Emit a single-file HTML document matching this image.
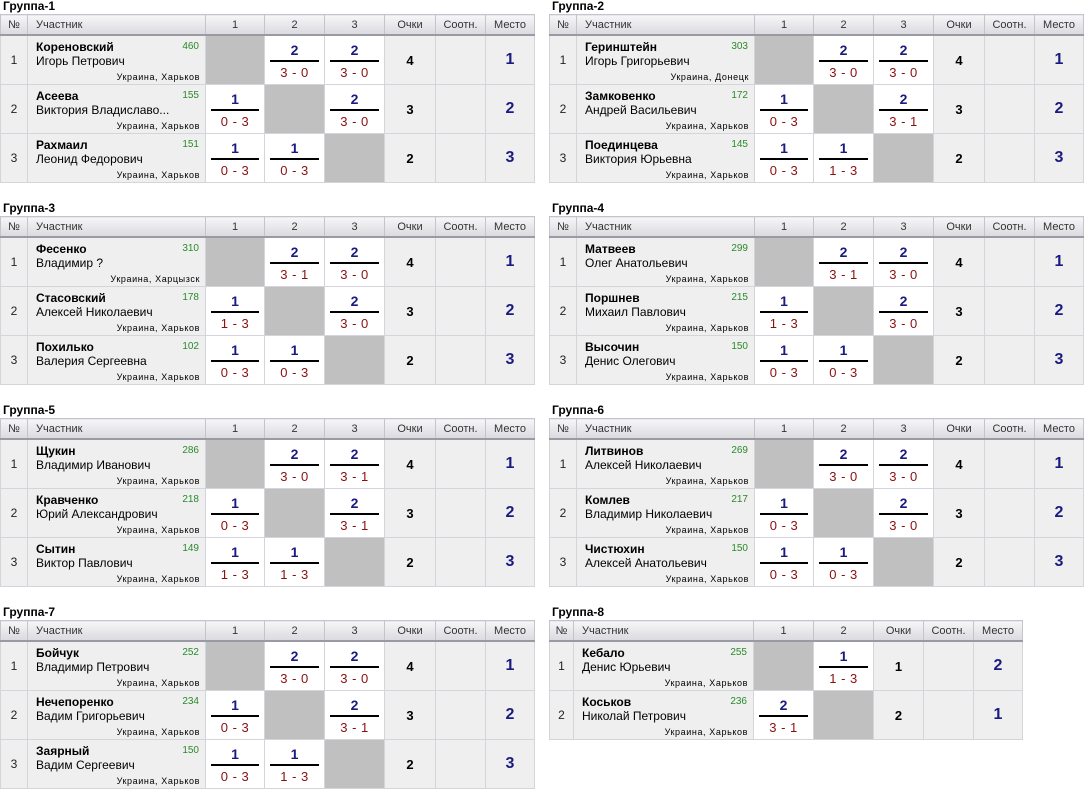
<!DOCTYPE html>
<html><head><meta charset="utf-8">
<style>
body{margin:0;width:1089px;height:794px;background:#fff;font-family:"Liberation Sans",Arial,sans-serif;position:relative;overflow:hidden}
.g{position:absolute}
.t{font-weight:bold;font-size:12px;color:#000;height:14px;line-height:12px;margin-left:3px}
table{border-collapse:collapse;table-layout:fixed}
th{height:19px;padding:0;font-weight:normal;font-size:11px;color:#333;background:linear-gradient(#f6f6f8,#dadadf);border:1px solid #c4c4cc;border-bottom:2px solid #9a9aa4;text-align:center}
th.p{text-align:left;padding-left:8px}
td{height:48px;padding:0;border:1px solid #d4d4dc;background:#efefef;text-align:center;font-size:12px;vertical-align:middle}
td.n{color:#222}
td.x{background:#c0c0c0}
td.s{background:#fff}
.pc{position:relative;height:48px;text-align:left}
.pc b{position:absolute;left:8px;top:4px;font-size:12px}
.pc .nm{position:absolute;left:8px;top:18px;font-size:12px;white-space:nowrap}
.pc .r{position:absolute;right:6px;top:5px;font-size:10px;color:#2a8a2a}
.pc .c{position:absolute;right:5px;bottom:2px;font-size:9px;letter-spacing:.6px}
.sc{position:relative;height:48px}
.sc .a{position:absolute;left:0;right:0;top:6px;font-weight:bold;font-size:14px;color:#1a1a80}
.sc .l{position:absolute;left:5px;right:5px;top:24px;height:2px;background:#000}
.sc .b{position:absolute;left:0;right:0;top:29px;font-size:13px;color:#8a1010;letter-spacing:.5px}
td.o{font-weight:bold;font-size:13px}
td.m{font-weight:bold;font-size:16px;color:#1a1a80}
</style></head><body>

<div class="g" style="left:0;top:0">
<div class="t">Группа-1</div>
<table><colgroup><col style="width:27px"><col style="width:178px"><col style="width:59px"><col style="width:60px"><col style="width:60px"><col style="width:51px"><col style="width:50px"><col style="width:49px"></colgroup>
<tr><th>№</th><th class="p">Участник</th><th>1</th><th>2</th><th>3</th><th>Очки</th><th>Соотн.</th><th>Место</th></tr>
<tr><td class="n">1</td><td><div class="pc"><b>Кореновский</b><span class="nm">Игорь Петрович</span><span class="r">460</span><span class="c">Украина, Харьков</span></div></td><td class="x"></td><td class="s"><div class="sc"><span class="a">2</span><span class="l"></span><span class="b">3 - 0</span></div></td><td class="s"><div class="sc"><span class="a">2</span><span class="l"></span><span class="b">3 - 0</span></div></td><td class="o">4</td><td></td><td class="m">1</td></tr>
<tr><td class="n">2</td><td><div class="pc"><b>Асеева</b><span class="nm">Виктория Владиславо...</span><span class="r">155</span><span class="c">Украина, Харьков</span></div></td><td class="s"><div class="sc"><span class="a">1</span><span class="l"></span><span class="b">0 - 3</span></div></td><td class="x"></td><td class="s"><div class="sc"><span class="a">2</span><span class="l"></span><span class="b">3 - 0</span></div></td><td class="o">3</td><td></td><td class="m">2</td></tr>
<tr><td class="n">3</td><td><div class="pc"><b>Рахмаил</b><span class="nm">Леонид Федорович</span><span class="r">151</span><span class="c">Украина, Харьков</span></div></td><td class="s"><div class="sc"><span class="a">1</span><span class="l"></span><span class="b">0 - 3</span></div></td><td class="s"><div class="sc"><span class="a">1</span><span class="l"></span><span class="b">0 - 3</span></div></td><td class="x"></td><td class="o">2</td><td></td><td class="m">3</td></tr>
</table></div>

<div class="g" style="left:549px;top:0">
<div class="t">Группа-2</div>
<table><colgroup><col style="width:27px"><col style="width:178px"><col style="width:59px"><col style="width:60px"><col style="width:60px"><col style="width:51px"><col style="width:50px"><col style="width:49px"></colgroup>
<tr><th>№</th><th class="p">Участник</th><th>1</th><th>2</th><th>3</th><th>Очки</th><th>Соотн.</th><th>Место</th></tr>
<tr><td class="n">1</td><td><div class="pc"><b>Геринштейн</b><span class="nm">Игорь Григорьевич</span><span class="r">303</span><span class="c">Украина, Донецк</span></div></td><td class="x"></td><td class="s"><div class="sc"><span class="a">2</span><span class="l"></span><span class="b">3 - 0</span></div></td><td class="s"><div class="sc"><span class="a">2</span><span class="l"></span><span class="b">3 - 0</span></div></td><td class="o">4</td><td></td><td class="m">1</td></tr>
<tr><td class="n">2</td><td><div class="pc"><b>Замковенко</b><span class="nm">Андрей Васильевич</span><span class="r">172</span><span class="c">Украина, Харьков</span></div></td><td class="s"><div class="sc"><span class="a">1</span><span class="l"></span><span class="b">0 - 3</span></div></td><td class="x"></td><td class="s"><div class="sc"><span class="a">2</span><span class="l"></span><span class="b">3 - 1</span></div></td><td class="o">3</td><td></td><td class="m">2</td></tr>
<tr><td class="n">3</td><td><div class="pc"><b>Поединцева</b><span class="nm">Виктория Юрьевна</span><span class="r">145</span><span class="c">Украина, Харьков</span></div></td><td class="s"><div class="sc"><span class="a">1</span><span class="l"></span><span class="b">0 - 3</span></div></td><td class="s"><div class="sc"><span class="a">1</span><span class="l"></span><span class="b">1 - 3</span></div></td><td class="x"></td><td class="o">2</td><td></td><td class="m">3</td></tr>
</table></div>

<div class="g" style="left:0;top:202px">
<div class="t">Группа-3</div>
<table><colgroup><col style="width:27px"><col style="width:178px"><col style="width:59px"><col style="width:60px"><col style="width:60px"><col style="width:51px"><col style="width:50px"><col style="width:49px"></colgroup>
<tr><th>№</th><th class="p">Участник</th><th>1</th><th>2</th><th>3</th><th>Очки</th><th>Соотн.</th><th>Место</th></tr>
<tr><td class="n">1</td><td><div class="pc"><b>Фесенко</b><span class="nm">Владимир ?</span><span class="r">310</span><span class="c">Украина, Харцызск</span></div></td><td class="x"></td><td class="s"><div class="sc"><span class="a">2</span><span class="l"></span><span class="b">3 - 1</span></div></td><td class="s"><div class="sc"><span class="a">2</span><span class="l"></span><span class="b">3 - 0</span></div></td><td class="o">4</td><td></td><td class="m">1</td></tr>
<tr><td class="n">2</td><td><div class="pc"><b>Стасовский</b><span class="nm">Алексей Николаевич</span><span class="r">178</span><span class="c">Украина, Харьков</span></div></td><td class="s"><div class="sc"><span class="a">1</span><span class="l"></span><span class="b">1 - 3</span></div></td><td class="x"></td><td class="s"><div class="sc"><span class="a">2</span><span class="l"></span><span class="b">3 - 0</span></div></td><td class="o">3</td><td></td><td class="m">2</td></tr>
<tr><td class="n">3</td><td><div class="pc"><b>Похилько</b><span class="nm">Валерия Сергеевна</span><span class="r">102</span><span class="c">Украина, Харьков</span></div></td><td class="s"><div class="sc"><span class="a">1</span><span class="l"></span><span class="b">0 - 3</span></div></td><td class="s"><div class="sc"><span class="a">1</span><span class="l"></span><span class="b">0 - 3</span></div></td><td class="x"></td><td class="o">2</td><td></td><td class="m">3</td></tr>
</table></div>

<div class="g" style="left:549px;top:202px">
<div class="t">Группа-4</div>
<table><colgroup><col style="width:27px"><col style="width:178px"><col style="width:59px"><col style="width:60px"><col style="width:60px"><col style="width:51px"><col style="width:50px"><col style="width:49px"></colgroup>
<tr><th>№</th><th class="p">Участник</th><th>1</th><th>2</th><th>3</th><th>Очки</th><th>Соотн.</th><th>Место</th></tr>
<tr><td class="n">1</td><td><div class="pc"><b>Матвеев</b><span class="nm">Олег Анатольевич</span><span class="r">299</span><span class="c">Украина, Харьков</span></div></td><td class="x"></td><td class="s"><div class="sc"><span class="a">2</span><span class="l"></span><span class="b">3 - 1</span></div></td><td class="s"><div class="sc"><span class="a">2</span><span class="l"></span><span class="b">3 - 0</span></div></td><td class="o">4</td><td></td><td class="m">1</td></tr>
<tr><td class="n">2</td><td><div class="pc"><b>Поршнев</b><span class="nm">Михаил Павлович</span><span class="r">215</span><span class="c">Украина, Харьков</span></div></td><td class="s"><div class="sc"><span class="a">1</span><span class="l"></span><span class="b">1 - 3</span></div></td><td class="x"></td><td class="s"><div class="sc"><span class="a">2</span><span class="l"></span><span class="b">3 - 0</span></div></td><td class="o">3</td><td></td><td class="m">2</td></tr>
<tr><td class="n">3</td><td><div class="pc"><b>Высочин</b><span class="nm">Денис Олегович</span><span class="r">150</span><span class="c">Украина, Харьков</span></div></td><td class="s"><div class="sc"><span class="a">1</span><span class="l"></span><span class="b">0 - 3</span></div></td><td class="s"><div class="sc"><span class="a">1</span><span class="l"></span><span class="b">0 - 3</span></div></td><td class="x"></td><td class="o">2</td><td></td><td class="m">3</td></tr>
</table></div>

<div class="g" style="left:0;top:404px">
<div class="t">Группа-5</div>
<table><colgroup><col style="width:27px"><col style="width:178px"><col style="width:59px"><col style="width:60px"><col style="width:60px"><col style="width:51px"><col style="width:50px"><col style="width:49px"></colgroup>
<tr><th>№</th><th class="p">Участник</th><th>1</th><th>2</th><th>3</th><th>Очки</th><th>Соотн.</th><th>Место</th></tr>
<tr><td class="n">1</td><td><div class="pc"><b>Щукин</b><span class="nm">Владимир Иванович</span><span class="r">286</span><span class="c">Украина, Харьков</span></div></td><td class="x"></td><td class="s"><div class="sc"><span class="a">2</span><span class="l"></span><span class="b">3 - 0</span></div></td><td class="s"><div class="sc"><span class="a">2</span><span class="l"></span><span class="b">3 - 1</span></div></td><td class="o">4</td><td></td><td class="m">1</td></tr>
<tr><td class="n">2</td><td><div class="pc"><b>Кравченко</b><span class="nm">Юрий Александрович</span><span class="r">218</span><span class="c">Украина, Харьков</span></div></td><td class="s"><div class="sc"><span class="a">1</span><span class="l"></span><span class="b">0 - 3</span></div></td><td class="x"></td><td class="s"><div class="sc"><span class="a">2</span><span class="l"></span><span class="b">3 - 1</span></div></td><td class="o">3</td><td></td><td class="m">2</td></tr>
<tr><td class="n">3</td><td><div class="pc"><b>Сытин</b><span class="nm">Виктор Павлович</span><span class="r">149</span><span class="c">Украина, Харьков</span></div></td><td class="s"><div class="sc"><span class="a">1</span><span class="l"></span><span class="b">1 - 3</span></div></td><td class="s"><div class="sc"><span class="a">1</span><span class="l"></span><span class="b">1 - 3</span></div></td><td class="x"></td><td class="o">2</td><td></td><td class="m">3</td></tr>
</table></div>

<div class="g" style="left:549px;top:404px">
<div class="t">Группа-6</div>
<table><colgroup><col style="width:27px"><col style="width:178px"><col style="width:59px"><col style="width:60px"><col style="width:60px"><col style="width:51px"><col style="width:50px"><col style="width:49px"></colgroup>
<tr><th>№</th><th class="p">Участник</th><th>1</th><th>2</th><th>3</th><th>Очки</th><th>Соотн.</th><th>Место</th></tr>
<tr><td class="n">1</td><td><div class="pc"><b>Литвинов</b><span class="nm">Алексей Николаевич</span><span class="r">269</span><span class="c">Украина, Харьков</span></div></td><td class="x"></td><td class="s"><div class="sc"><span class="a">2</span><span class="l"></span><span class="b">3 - 0</span></div></td><td class="s"><div class="sc"><span class="a">2</span><span class="l"></span><span class="b">3 - 0</span></div></td><td class="o">4</td><td></td><td class="m">1</td></tr>
<tr><td class="n">2</td><td><div class="pc"><b>Комлев</b><span class="nm">Владимир Николаевич</span><span class="r">217</span><span class="c">Украина, Харьков</span></div></td><td class="s"><div class="sc"><span class="a">1</span><span class="l"></span><span class="b">0 - 3</span></div></td><td class="x"></td><td class="s"><div class="sc"><span class="a">2</span><span class="l"></span><span class="b">3 - 0</span></div></td><td class="o">3</td><td></td><td class="m">2</td></tr>
<tr><td class="n">3</td><td><div class="pc"><b>Чистюхин</b><span class="nm">Алексей Анатольевич</span><span class="r">150</span><span class="c">Украина, Харьков</span></div></td><td class="s"><div class="sc"><span class="a">1</span><span class="l"></span><span class="b">0 - 3</span></div></td><td class="s"><div class="sc"><span class="a">1</span><span class="l"></span><span class="b">0 - 3</span></div></td><td class="x"></td><td class="o">2</td><td></td><td class="m">3</td></tr>
</table></div>

<div class="g" style="left:0;top:606px">
<div class="t">Группа-7</div>
<table><colgroup><col style="width:27px"><col style="width:178px"><col style="width:59px"><col style="width:60px"><col style="width:60px"><col style="width:51px"><col style="width:50px"><col style="width:49px"></colgroup>
<tr><th>№</th><th class="p">Участник</th><th>1</th><th>2</th><th>3</th><th>Очки</th><th>Соотн.</th><th>Место</th></tr>
<tr><td class="n">1</td><td><div class="pc"><b>Бойчук</b><span class="nm">Владимир Петрович</span><span class="r">252</span><span class="c">Украина, Харьков</span></div></td><td class="x"></td><td class="s"><div class="sc"><span class="a">2</span><span class="l"></span><span class="b">3 - 0</span></div></td><td class="s"><div class="sc"><span class="a">2</span><span class="l"></span><span class="b">3 - 0</span></div></td><td class="o">4</td><td></td><td class="m">1</td></tr>
<tr><td class="n">2</td><td><div class="pc"><b>Нечепоренко</b><span class="nm">Вадим Григорьевич</span><span class="r">234</span><span class="c">Украина, Харьков</span></div></td><td class="s"><div class="sc"><span class="a">1</span><span class="l"></span><span class="b">0 - 3</span></div></td><td class="x"></td><td class="s"><div class="sc"><span class="a">2</span><span class="l"></span><span class="b">3 - 1</span></div></td><td class="o">3</td><td></td><td class="m">2</td></tr>
<tr><td class="n">3</td><td><div class="pc"><b>Заярный</b><span class="nm">Вадим Сергеевич</span><span class="r">150</span><span class="c">Украина, Харьков</span></div></td><td class="s"><div class="sc"><span class="a">1</span><span class="l"></span><span class="b">0 - 3</span></div></td><td class="s"><div class="sc"><span class="a">1</span><span class="l"></span><span class="b">1 - 3</span></div></td><td class="x"></td><td class="o">2</td><td></td><td class="m">3</td></tr>
</table></div>

<div class="g" style="left:549px;top:606px">
<div class="t">Группа-8</div>
<table><colgroup><col style="width:24px"><col style="width:180px"><col style="width:60px"><col style="width:60px"><col style="width:50px"><col style="width:50px"><col style="width:49px"></colgroup>
<tr><th>№</th><th class="p">Участник</th><th>1</th><th>2</th><th>Очки</th><th>Соотн.</th><th>Место</th></tr>
<tr><td class="n">1</td><td><div class="pc"><b>Кебало</b><span class="nm">Денис Юрьевич</span><span class="r">255</span><span class="c">Украина, Харьков</span></div></td><td class="x"></td><td class="s"><div class="sc"><span class="a">1</span><span class="l"></span><span class="b">1 - 3</span></div></td><td class="o">1</td><td></td><td class="m">2</td></tr>
<tr><td class="n">2</td><td><div class="pc"><b>Коськов</b><span class="nm">Николай Петрович</span><span class="r">236</span><span class="c">Украина, Харьков</span></div></td><td class="s"><div class="sc"><span class="a">2</span><span class="l"></span><span class="b">3 - 1</span></div></td><td class="x"></td><td class="o">2</td><td></td><td class="m">1</td></tr>
</table></div>

</body></html>
